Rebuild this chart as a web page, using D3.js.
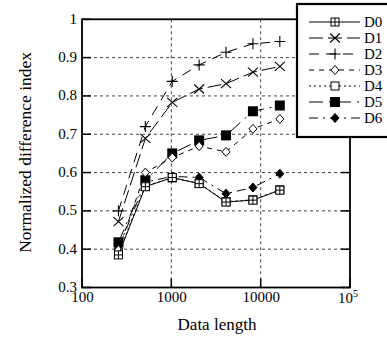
<!DOCTYPE html>
<html>
<head>
<meta charset="utf-8">
<script src="https://cdn.jsdelivr.net/npm/d3@7/dist/d3.min.js"></script>
<style>
  body { margin: 0; background: #fff; }
</style>
</head>
<body>
<div id="chart"></div>
<script>
// data
var lengths = [256, 512, 1024, 2048, 4096, 8192, 16384];
var seriesNames = ["D0", "D1", "D2", "D3", "D4", "D5", "D6"];
var d0 = [0.385, 0.563, 0.587, 0.571, 0.523, 0.528, 0.554];
var d1 = [0.472, 0.689, 0.783, 0.818, 0.832, 0.862, 0.877];
var d2 = [0.500, 0.720, 0.838, 0.881, 0.914, 0.936, 0.942];
var d3vals = [0.398, 0.600, 0.639, 0.669, 0.654, 0.714, 0.740];
var d4 = [0.390, 0.565, 0.586, 0.572, 0.524, 0.529, 0.555];
var d5 = [0.418, 0.580, 0.650, 0.684, 0.697, 0.760, 0.775];
var d6 = [0.403, 0.575, 0.590, 0.587, 0.545, 0.561, 0.597];
var yTicks = [0.3, 0.4, 0.5, 0.6, 0.7, 0.8, 0.9, 1];
var xTicks = [100, 1000, 10000, 100000];

(function() {
var FONT = "Liberation Serif";
var allValues = [d0, d1, d2, d3vals, d4, d5, d6];
var dashes = [null, "14,5", "10,7", "5,5", "2,3", "14,6,2,6", "9,5,2,5"];
var markers = ["gridsq", "cross", "plus", "diamond", "opensq", "fillsq", "filldia"];

var W = 387, H = 341;
var pl = 82, pr = 350, pt = 19.3, pb = 287.5;

var svg = d3.select("#chart").append("svg")
  .attr("width", W).attr("height", H);

var x = d3.scaleLog().domain([100, 100000]).range([pl, pr]);
var y = d3.scaleLinear().domain([0.3, 1]).range([pb, pt]);

// grid
svg.append("g").selectAll("line").data(yTicks.slice(1, -1)).enter().append("line")
  .attr("x1", pl).attr("x2", pr)
  .attr("y1", function(d) { return y(d); }).attr("y2", function(d) { return y(d); })
  .attr("stroke", "#444").attr("stroke-width", 1).attr("stroke-dasharray", "3,3");
svg.append("g").selectAll("line").data(xTicks.slice(1, -1)).enter().append("line")
  .attr("y1", pt).attr("y2", pb)
  .attr("x1", function(d) { return x(d); }).attr("x2", function(d) { return x(d); })
  .attr("stroke", "#444").attr("stroke-width", 1).attr("stroke-dasharray", "3,3");

// axes
var yAxis = svg.append("g").attr("transform", "translate(" + pl + ",0)")
  .call(d3.axisLeft(y).tickValues(yTicks).tickSize(0).tickPadding(5)
    .tickFormat(function(d) { return d === 1 ? "1" : d3.format(".1f")(d); }));
yAxis.select(".domain").remove();
yAxis.attr("font-family", FONT).attr("font-size", 15);
yAxis.selectAll("text").attr("fill", "#000").attr("dy", "0.26em");

var xAxis = svg.append("g").attr("transform", "translate(0," + pb + ")")
  .call(d3.axisBottom(x).tickValues(xTicks).tickSize(0).tickPadding(5)
    .tickFormat(function(d) { return d === 100000 ? "" : String(d); }));
xAxis.select(".domain").remove();
xAxis.attr("font-family", FONT).attr("font-size", 15);
xAxis.selectAll("text").attr("fill", "#000").attr("dy", "0.66em");
var t5 = svg.append("text").attr("x", x(100000) - 2).attr("y", pb + 15)
  .attr("text-anchor", "middle").attr("font-family", FONT).attr("font-size", 15);
t5.append("tspan").text("10");
t5.append("tspan").attr("dy", -6).attr("font-size", 10).text("5");

// tick marks (inside, left and right)
yTicks.forEach(function(v) {
  svg.append("line").attr("x1", pl).attr("x2", pl + 9).attr("y1", y(v)).attr("y2", y(v))
    .attr("stroke", "#000").attr("stroke-width", 1.5);
  svg.append("line").attr("x1", pr - 9).attr("x2", pr).attr("y1", y(v)).attr("y2", y(v))
    .attr("stroke", "#000").attr("stroke-width", 1.5);
});
xTicks.forEach(function(v) {
  svg.append("line").attr("x1", x(v)).attr("x2", x(v)).attr("y1", pb).attr("y2", pb - 9)
    .attr("stroke", "#000").attr("stroke-width", 1.5);
});

// border
svg.append("rect").attr("x", pl).attr("y", pt)
  .attr("width", pr - pl).attr("height", pb - pt)
  .attr("fill", "none").attr("stroke", "#000").attr("stroke-width", 1.8);

// axis titles
svg.append("text").attr("transform", "translate(31," + ((pt + pb) / 2 - 1) + ") rotate(-90)")
  .attr("text-anchor", "middle").attr("font-family", FONT).attr("font-size", 17.5)
  .text("Normalized difference index");
svg.append("text").attr("x", (pl + pr) / 2 + 1).attr("y", 330)
  .attr("text-anchor", "middle").attr("font-family", FONT).attr("font-size", 17)
  .text("Data length");

function drawMarker(g, type, cx, cy) {
  if (type === "gridsq") {
    g.append("rect").attr("x", cx - 4).attr("y", cy - 4).attr("width", 8).attr("height", 8)
      .attr("fill", "#fff").attr("stroke", "#000").attr("stroke-width", 1);
    g.append("path").attr("d", "M" + (cx - 4) + "," + cy + "H" + (cx + 4) + "M" + cx + "," + (cy - 4) + "V" + (cy + 4))
      .attr("stroke", "#000").attr("stroke-width", 1);
  } else if (type === "cross") {
    g.append("path").attr("d", "M" + (cx - 5) + "," + (cy - 4.5) + "L" + (cx + 5) + "," + (cy + 4.5) +
      "M" + (cx - 5) + "," + (cy + 4.5) + "L" + (cx + 5) + "," + (cy - 4.5))
      .attr("stroke", "#000").attr("stroke-width", 1.1);
  } else if (type === "plus") {
    g.append("path").attr("d", "M" + (cx - 5.5) + "," + cy + "H" + (cx + 5.5) + "M" + cx + "," + (cy - 5.5) + "V" + (cy + 5.5))
      .attr("stroke", "#000").attr("stroke-width", 1.1);
  } else if (type === "diamond" || type === "filldia") {
    g.append("path").attr("d", "M" + cx + "," + (cy - 4.5) + "L" + (cx + 4) + "," + cy + "L" + cx + "," + (cy + 4.5) + "L" + (cx - 4) + "," + cy + "Z")
      .attr("fill", type === "filldia" ? "#000" : "#fff").attr("stroke", "#000").attr("stroke-width", 1);
  } else if (type === "opensq") {
    g.append("rect").attr("x", cx - 4).attr("y", cy - 4).attr("width", 8).attr("height", 8)
      .attr("fill", "#fff").attr("stroke", "#000").attr("stroke-width", 1);
  } else if (type === "fillsq") {
    g.append("rect").attr("x", cx - 5).attr("y", cy - 5).attr("width", 10).attr("height", 10)
      .attr("fill", "#000");
  }
}

var line = d3.line()
  .x(function(d, i) { return x(lengths[i]); })
  .y(function(d) { return y(d); });

// draw series, last first so D0 lies on top
for (var s = seriesNames.length - 1; s >= 0; s--) {
  var g = svg.append("g");
  g.append("path").datum(allValues[s]).attr("d", line)
    .attr("fill", "none").attr("stroke", "#000").attr("stroke-width", 1)
    .attr("stroke-dasharray", dashes[s]);
  allValues[s].forEach(function(v, i) { drawMarker(g, markers[s], x(lengths[i]), y(v)); });
}

// legend
var lg = svg.append("g");
lg.append("rect").attr("x", 297).attr("y", 4).attr("width", 100).attr("height", 133)
  .attr("fill", "#fff").attr("stroke", "#000").attr("stroke-width", 2.2);
seriesNames.forEach(function(name, i) {
  var ly = 22 + i * 16;
  lg.append("line").attr("x1", 309).attr("x2", 360).attr("y1", ly).attr("y2", ly)
    .attr("stroke", "#000").attr("stroke-width", 1).attr("stroke-dasharray", dashes[i]);
  drawMarker(lg, markers[i], 335, ly);
  lg.append("text").attr("x", 364).attr("y", ly + 5).attr("font-family", FONT)
    .attr("font-size", 15).text(name);
});
})();
</script>
</body>
</html>
